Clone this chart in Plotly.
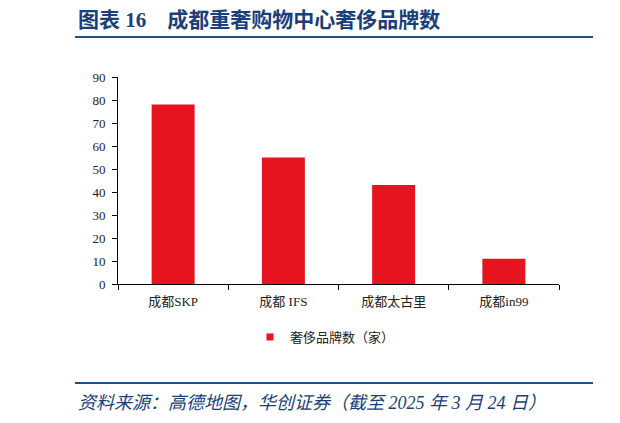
import plotly.graph_objects as go

# podatki
kategorije = ["成都SKP", "成都 IFS", "成都太古里", "成都in99"]
vrednosti = [78, 55, 43, 11]
y_ticki = [0, 10, 20, 30, 40, 50, 60, 70, 80, 90]

naslov = "图表 16 &nbsp;&nbsp;&nbsp;成都重奢购物中心奢侈品牌数"
vir = "资料来源：高德地图，华创证券（截至 2025 年 3 月 24 日）"
legenda = "奢侈品牌数（家）"

# stran ima 8px roba, zato vse zamaknemo
OFF = 8
W, H = 620 - OFF, 423 - 2 * OFF
L, R, T, B = 118 - OFF, 559 - OFF, 77 - OFF, 284 - OFF  # plot area v pikslih
MODRA = "#1f4e8c"
RDECA = "#e5141f"


def px(x):
    return (x - OFF - L) / (R - L)


def py(y):
    return (B - (y - OFF)) / (B - T)


fig = go.Figure(go.Bar(
    x=kategorije, y=vrednosti, name=legenda, showlegend=False,
    marker=dict(color=RDECA, line=dict(width=0)),
))
# legenda z majhnim kvadratkom
fig.add_trace(go.Scatter(
    x=[None], y=[None], mode="markers", name=legenda,
    marker=dict(symbol="square", size=7, color=RDECA),
))

fig.update_layout(
    width=W, height=H,
    margin=dict(l=L, r=W - R, t=T, b=H - B),
    paper_bgcolor="white", plot_bgcolor="white",
    bargap=0.61,
    font=dict(family="Liberation Serif, Noto Sans CJK SC", size=13, color="#222"),
    showlegend=True,
    legend=dict(orientation="h", x=px(250), xanchor="left", y=py(337), yanchor="middle",
                font=dict(size=13, family="Noto Sans CJK SC"),
                itemwidth=30),
)

fig.update_xaxes(showline=True, linecolor="black", linewidth=1,
                 ticks="outside", ticklen=5, tickcolor="black",
                 tickson="boundaries", showgrid=False, ticklabelstandoff=5,
                 tickfont=dict(size=13, color="#222"))
fig.update_yaxes(range=[0, 90], tickvals=y_ticki, showline=True, linecolor="black",
                 linewidth=1, ticks="outside", ticklen=5, tickcolor="black",
                 showgrid=False, zeroline=False, ticklabelstandoff=4,
                 tickfont=dict(size=13, color="#222"))

# naslov in vir
fig.add_annotation(text="<b>" + naslov + "</b>", xref="paper", yref="paper",
                   x=px(76), y=py(20), xanchor="left", yanchor="middle",
                   showarrow=False,
                   font=dict(size=21, color="#1a3f7a",
                             family="Liberation Serif, Noto Sans CJK SC"))
fig.add_annotation(text="<i>" + vir + "</i>", xref="paper", yref="paper",
                   x=px(76), y=py(403), xanchor="left", yanchor="middle",
                   showarrow=False,
                   font=dict(size=18, color="#1a3f7a",
                             family="Liberation Serif, Noto Sans CJK SC"))

# crte
crte = [
    (75, 37, 593, 37),
    (75, 383, 593, 383),
    (613, 37, 619, 37),
    (613, 383, 619, 383),
]
for x0, y0, x1, y1 in crte:
    fig.add_shape(type="line", xref="paper", yref="paper",
                  x0=px(x0), y0=py(y0), x1=px(x1), y1=py(y1),
                  line=dict(color=MODRA, width=2))
# delcek sosednjega grafa na desnem robu
fig.add_shape(type="rect", xref="paper", yref="paper",
              x0=px(614), y0=py(28), x1=px(619), y1=py(12),
              fillcolor="#1a3f7a", line=dict(width=0))

fig.write_html("out.html")
